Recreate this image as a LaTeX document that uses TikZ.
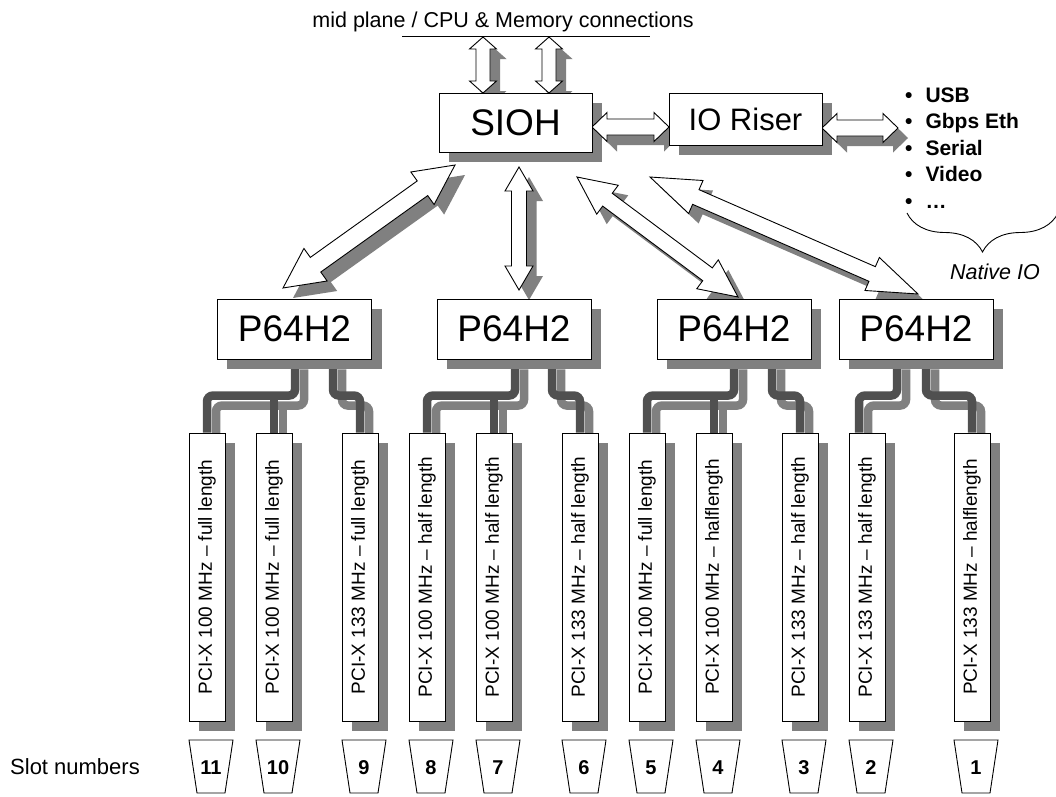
\documentclass[tikz,border=0pt]{standalone}
\usepackage{graphicx}
\usepackage{fontspec}
\setmainfont{Liberation Sans}
\usetikzlibrary{decorations.pathreplacing}
\pgfdeclarelayer{bgl}\pgfdeclarelayer{wirel}\pgfdeclarelayer{shadl}\pgfdeclarelayer{arrl}
\pgfsetlayers{bgl,wirel,shadl,arrl,main}
\definecolor{shadowc}{RGB}{128,128,128}
\definecolor{wirec}{RGB}{80,80,80}
\newdimen\arAx \newdimen\arAy \newdimen\arBx \newdimen\arBy
% #1 head length, #2 head half width, #3 body half width, #4 from, #5 to
\newcommand\dblarr[5]{%
 \pgfextractx{\arAx}{\pgfpointanchor{#4}{center}}%
 \pgfextracty{\arAy}{\pgfpointanchor{#4}{center}}%
 \pgfextractx{\arBx}{\pgfpointanchor{#5}{center}}%
 \pgfextracty{\arBy}{\pgfpointanchor{#5}{center}}%
 \pgfmathsetmacro\arAng{atan2(\arBy-\arAy,\arBx-\arAx)}%
 \pgfmathsetmacro\arLen{veclen(\arBx-\arAx,\arBy-\arAy)}%
 \pgfmathsetmacro\arM{\arLen-#1}%
 \begin{scope}[shift={(\arAx+10pt,\arAy-10pt)}, rotate=\arAng]
  \fill[shadowc] (0pt,0pt) -- (#1pt,#2pt) -- (#1pt,#3pt) -- (\arM pt,#3pt) -- (\arM pt,#2pt) -- (\arLen pt,0pt) -- (\arM pt,-#2pt) -- (\arM pt,-#3pt) -- (#1pt,-#3pt) -- (#1pt,-#2pt) -- cycle;
 \end{scope}
 \begin{scope}[shift={(\arAx,\arAy)}, rotate=\arAng]
  \draw[line width=0.9pt, fill=white] (0pt,0pt) -- (#1pt,#2pt) -- (#1pt,#3pt) -- (\arM pt,#3pt) -- (\arM pt,#2pt) -- (\arLen pt,0pt) -- (\arM pt,-#2pt) -- (\arM pt,-#3pt) -- (#1pt,-#3pt) -- (#1pt,-#2pt) -- cycle;
 \end{scope}}
\newcommand\boxshadow[1]{\begin{pgfonlayer}{shadl}\fill[shadowc] ([shift={(10pt,-10pt)}]#1.north west) rectangle ([shift={(10pt,-10pt)}]#1.south east);\end{pgfonlayer}}
\begin{document}
\begin{tikzpicture}[x=1pt,y=-1pt,
  box/.style={draw, fill=white, line width=0.9pt, inner sep=0pt},
  chip/.style={box, minimum width=154pt, minimum height=60pt, font=\fontsize{37}{40}\selectfont},
  card/.style={box, minimum width=36pt, minimum height=288pt, font=\fontsize{19}{22}\selectfont},
  wire/.style={draw=wirec, line width=8.5pt, rounded corners=6pt},
  wireshadow/.style={wire, draw=shadowc, transform canvas={shift={(9pt,-10pt)}}},
  slotnum/.style={font=\bfseries\fontsize{20}{22}\selectfont, inner sep=0pt, anchor=base}]
\useasboundingbox (0,0) rectangle (1056,796);
\begin{pgfonlayer}{bgl}
\fill[white] (0,0) rectangle (1056,796);
\end{pgfonlayer}

% top text and line
\node[anchor=base, inner sep=0pt, font=\fontsize{21.5}{24}\selectfont] (mid) at (503,27) {mid plane / CPU \& Memory connections};
\coordinate (la) at (402,36);
\coordinate (lb) at (650,36);
\draw[line width=0.9pt] (la) -- (lb);

% chips
\node[box, minimum width=153pt, minimum height=59pt, font=\fontsize{37}{40}\selectfont] (sioh) at (515.5,122.5) {SIOH};
\node[box, minimum width=153pt, minimum height=52pt, font=\fontsize{31}{34}\selectfont] (rise) at (745.5,119) {IO Riser};
\node[chip] (p1) at (294.5,329) {P64H2};
\node[chip] (p2) at (514,329) {P64H2};
\node[chip] (p3) at (734,329) {P64H2};
\node[chip] (p4) at (916,329) {P64H2};
\boxshadow{sioh}\boxshadow{rise}\boxshadow{p1}\boxshadow{p2}\boxshadow{p3}\boxshadow{p4}

% cards
\node[card] (c11) at (207,577) {\rotatebox{90}{PCI-X 100 MHz – full length}};
\node[card] (c10) at (274,577) {\rotatebox{90}{PCI-X 100 MHz – full length}};
\node[card] (c9) at (360,577) {\rotatebox{90}{PCI-X 133 MHz – full length}};
\node[card] (c8) at (427,577) {\rotatebox{90}{PCI-X 100 MHz – half length}};
\node[card] (c7) at (494,577) {\rotatebox{90}{PCI-X 100 MHz – half length}};
\node[card] (c6) at (580,577) {\rotatebox{90}{PCI-X 133 MHz – half length}};
\node[card] (c5) at (647,577) {\rotatebox{90}{PCI-X 100 MHz – full length}};
\node[card] (c4) at (714,577) {\rotatebox{90}{PCI-X 100 MHz – halflength}};
\node[card] (c3) at (800,577) {\rotatebox{90}{PCI-X 133 MHz – half length}};
\node[card] (c2) at (867,577) {\rotatebox{90}{PCI-X 133 MHz – half length}};
\node[card] (c1) at (972,577) {\rotatebox{90}{PCI-X 133 MHz – halflength}};
\foreach \c in {c11,c10,c9,c8,c7,c6,c5,c4,c3,c2,c1}{\boxshadow{\c}}

% wires
\begin{pgfonlayer}{wirel}
\foreach \s in {wireshadow,wire}{
 \draw[\s] ([xshift=0.5pt]p1.south) |- ([yshift=37pt]c11.north) -- (c11.north);
 \draw[\s] ([yshift=37pt]c10.north) -- (c10.north);
 \draw[\s] ([xshift=38.5pt]p1.south) |- ([yshift=37pt]c9.north) -- (c9.north);
 \draw[\s] ([xshift=1pt]p2.south) |- ([yshift=37pt]c8.north) -- (c8.north);
 \draw[\s] ([yshift=37pt]c7.north) -- (c7.north);
 \draw[\s] ([xshift=38pt]p2.south) |- ([yshift=37pt]c6.north) -- (c6.north);
 \draw[\s] ([xshift=0pt]p3.south) |- ([yshift=37pt]c5.north) -- (c5.north);
 \draw[\s] ([yshift=37pt]c4.north) -- (c4.north);
 \draw[\s] ([xshift=38pt]p3.south) |- ([yshift=37pt]c3.north) -- (c3.north);
 \draw[\s] ([xshift=-19pt]p4.south) |- ([xshift=-8pt,yshift=37pt]c2.north) -- ([xshift=-8pt]c2.north);
 \draw[\s] ([xshift=10pt]p4.south) |- ([yshift=37pt]c1.north) -- (c1.north);
}
\end{pgfonlayer}

% block arrows
\coordinate (t1a) at (483,37); \coordinate (t1b) at (483,93);
\coordinate (t2a) at (549,37); \coordinate (t2b) at (549,93);
\coordinate (h1a) at (592,127); \coordinate (h1b) at (669,127);
\coordinate (h2a) at (822,128); \coordinate (h2b) at (898,128);
\coordinate (d1a) at (455,165); \coordinate (d1b) at (283,288);
\coordinate (d2a) at (519,167); \coordinate (d2b) at (519,290);
\coordinate (d3a) at (577,177); \coordinate (d3b) at (738,297);
\coordinate (d4a) at (650,177); \coordinate (d4b) at (918,294);
\begin{pgfonlayer}{arrl}
\dblarr{12}{13.5}{7}{t1a}{t1b}
\dblarr{12}{13.5}{7}{t2a}{t2b}
\dblarr{15}{14.5}{8}{h1a}{h1b}
\dblarr{15}{14.5}{8}{h2a}{h2b}
\dblarr{40}{20}{9}{d1a}{d1b}
\dblarr{24}{14}{7.5}{d2a}{d2b}
\dblarr{38}{18}{8}{d3a}{d3b}
\dblarr{50}{18}{8}{d4a}{d4b}
\end{pgfonlayer}

% native IO list
\node[anchor=base west, inner sep=0pt, font=\bfseries\fontsize{21}{26.5}\selectfont] (io) at (905,102)
 {\begin{tabular}[t]{@{}l@{\hspace{13pt}}l@{}}•&USB\\•&Gbps Eth\\•&Serial\\•&Video\\•&…\end{tabular}};
\coordinate (bra) at (907,213);
\coordinate (brb) at (1058,213);
\draw[line width=0.9pt, decorate, decoration={brace, mirror, amplitude=39pt}] (bra) -- (brb);
\node[font=\itshape\fontsize{21.5}{24}\selectfont, inner sep=0pt] (nat) at (995,272) {Native IO};

% slot numbers
\node[anchor=west, inner sep=0pt, font=\fontsize{22}{24}\selectfont] (slotlbl) at (10,767) {Slot numbers};
\foreach \L/\n in {189/11,256/10,342/9,409/8,476/7,562/6,629/5,696/4,782/3,849/2,954/1}{
 \draw[line width=0.9pt, fill=white] (\L,740) -- (\L+44,740) -- (\L+36,793) -- (\L+8,793) -- cycle;
 \node[slotnum] (s\n) at (\L+22,774) {\n};
}
\end{tikzpicture}
\end{document}
